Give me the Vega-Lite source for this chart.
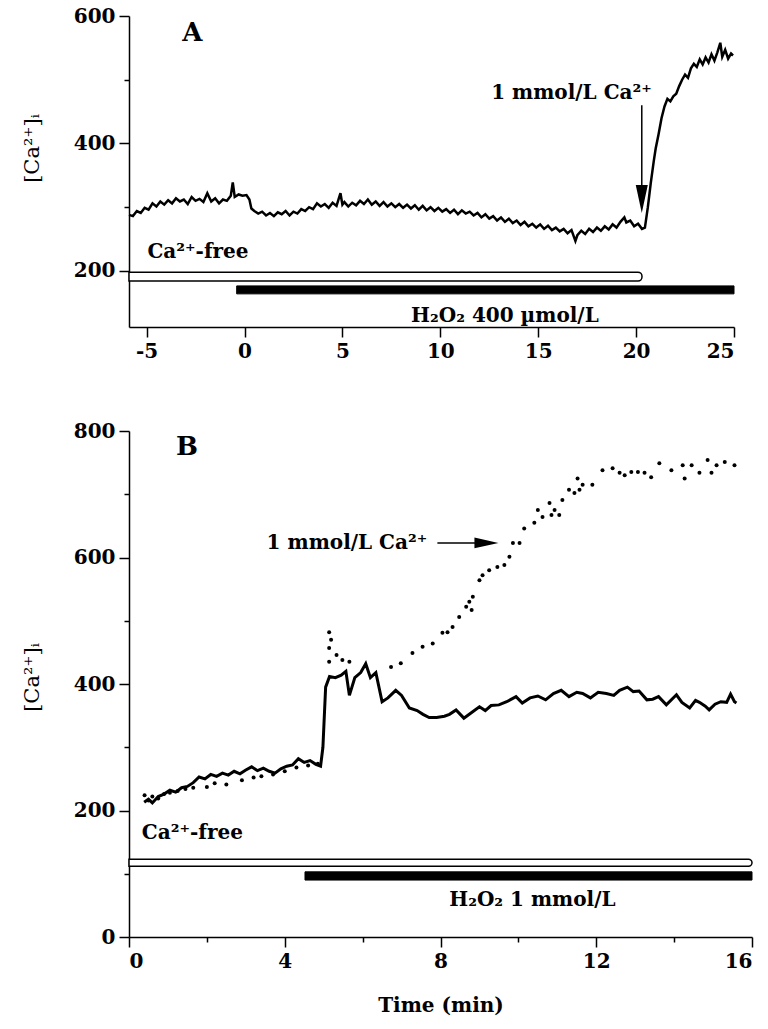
{
"$schema": "https://vega.github.io/schema/vega-lite/v6.json",
"padding": {"left": 20, "top": 6, "right": 5, "bottom": 5},
"spacing": 60,
"background": "white",
"datasets": {
"traceA": [
{"t":-5.9,"v":288},{"t":-5.7,"v":286},{"t":-5.5,"v":294},{"t":-5.3,"v":291},{"t":-5.1,"v":299},{"t":-4.9,"v":296},{"t":-4.7,"v":306},{"t":-4.5,"v":301},{"t":-4.3,"v":309},{"t":-4.1,"v":304},{"t":-3.9,"v":311},{"t":-3.7,"v":306},{"t":-3.5,"v":314},{"t":-3.3,"v":309},{"t":-3.1,"v":312},{"t":-2.9,"v":305},{"t":-2.7,"v":316},{"t":-2.5,"v":310},{"t":-2.3,"v":313},{"t":-2.1,"v":308},{"t":-1.9,"v":322},{"t":-1.7,"v":309},{"t":-1.5,"v":314},{"t":-1.3,"v":306},{"t":-1.1,"v":312},{"t":-0.9,"v":310},{"t":-0.7,"v":318},{"t":-0.6,"v":339},{"t":-0.5,"v":316},{"t":-0.3,"v":320},{"t":-0.1,"v":318},{"t":0.1,"v":319},{"t":0.25,"v":312},{"t":0.35,"v":298},{"t":0.5,"v":294},{"t":0.7,"v":290},{"t":0.9,"v":293},{"t":1.1,"v":287},{"t":1.3,"v":291},{"t":1.5,"v":286},{"t":1.7,"v":292},{"t":1.9,"v":289},{"t":2.1,"v":294},{"t":2.3,"v":287},{"t":2.5,"v":293},{"t":2.7,"v":290},{"t":2.9,"v":297},{"t":3.1,"v":294},{"t":3.3,"v":300},{"t":3.5,"v":297},{"t":3.7,"v":306},{"t":3.9,"v":301},{"t":4.1,"v":305},{"t":4.3,"v":299},{"t":4.5,"v":307},{"t":4.7,"v":302},{"t":4.9,"v":322},{"t":5.0,"v":304},{"t":5.1,"v":308},{"t":5.3,"v":301},{"t":5.5,"v":307},{"t":5.7,"v":303},{"t":5.9,"v":310},{"t":6.1,"v":305},{"t":6.3,"v":312},{"t":6.5,"v":304},{"t":6.7,"v":309},{"t":6.9,"v":302},{"t":7.1,"v":308},{"t":7.3,"v":301},{"t":7.5,"v":306},{"t":7.7,"v":300},{"t":7.9,"v":305},{"t":8.1,"v":299},{"t":8.3,"v":304},{"t":8.5,"v":298},{"t":8.7,"v":303},{"t":8.9,"v":296},{"t":9.1,"v":302},{"t":9.3,"v":295},{"t":9.5,"v":300},{"t":9.7,"v":294},{"t":9.9,"v":299},{"t":10.1,"v":293},{"t":10.3,"v":297},{"t":10.5,"v":291},{"t":10.7,"v":296},{"t":10.9,"v":289},{"t":11.1,"v":295},{"t":11.3,"v":290},{"t":11.5,"v":293},{"t":11.7,"v":287},{"t":11.9,"v":291},{"t":12.1,"v":284},{"t":12.3,"v":289},{"t":12.5,"v":282},{"t":12.7,"v":286},{"t":12.9,"v":279},{"t":13.1,"v":284},{"t":13.3,"v":277},{"t":13.5,"v":282},{"t":13.7,"v":275},{"t":13.9,"v":279},{"t":14.1,"v":272},{"t":14.3,"v":277},{"t":14.5,"v":270},{"t":14.7,"v":274},{"t":14.9,"v":268},{"t":15.1,"v":273},{"t":15.3,"v":266},{"t":15.5,"v":271},{"t":15.7,"v":264},{"t":15.9,"v":268},{"t":16.1,"v":262},{"t":16.3,"v":266},{"t":16.5,"v":259},{"t":16.7,"v":264},{"t":16.9,"v":247},{"t":17.0,"v":256},{"t":17.2,"v":263},{"t":17.4,"v":258},{"t":17.6,"v":266},{"t":17.8,"v":261},{"t":18.0,"v":268},{"t":18.2,"v":263},{"t":18.4,"v":270},{"t":18.6,"v":265},{"t":18.8,"v":273},{"t":19.0,"v":268},{"t":19.2,"v":277},{"t":19.4,"v":284},{"t":19.5,"v":276},{"t":19.7,"v":279},{"t":19.9,"v":270},{"t":20.1,"v":274},{"t":20.3,"v":266},{"t":20.45,"v":268},{"t":20.6,"v":300},{"t":20.75,"v":338},{"t":20.9,"v":372},{"t":21.0,"v":392},{"t":21.15,"v":415},{"t":21.3,"v":440},{"t":21.45,"v":458},{"t":21.6,"v":470},{"t":21.75,"v":466},{"t":21.9,"v":474},{"t":22.05,"v":478},{"t":22.2,"v":490},{"t":22.35,"v":500},{"t":22.5,"v":508},{"t":22.65,"v":503},{"t":22.8,"v":518},{"t":22.95,"v":525},{"t":23.1,"v":520},{"t":23.25,"v":532},{"t":23.4,"v":524},{"t":23.55,"v":535},{"t":23.7,"v":527},{"t":23.85,"v":540},{"t":24.0,"v":530},{"t":24.15,"v":543},{"t":24.3,"v":558},{"t":24.4,"v":536},{"t":24.55,"v":547},{"t":24.7,"v":533},{"t":24.85,"v":541},{"t":24.95,"v":538}
],
"freeA": [{"t":-5.9,"t2":20.3,"v":184,"v2":198}],
"h2o2A": [{"t":-0.4,"t2":25,"v":164,"v2":176.5}],
"textA": [
{"t":-2.66,"v":573,"label":"A","size":26,"align":"center"},
{"t":-4.96,"v":230,"label":"Ca²⁺-free","size":20,"align":"left"},
{"t":13.3,"v":130,"label":"H₂O₂ 400 µmol/L","size":20,"align":"center"},
{"t":16.7,"v":479,"label":"1 mmol/L Ca²⁺","size":20,"align":"center"}
],
"arrowA": [{"t":20.29,"v":460,"v2":325}],
"headA": [{"t":20.29,"v":313}],
"solidB": [
{"t":0.39,"v":213},{"t":0.5,"v":218},{"t":0.6,"v":212},{"t":0.75,"v":222},{"t":0.9,"v":226},{"t":1.05,"v":232},{"t":1.2,"v":229},{"t":1.35,"v":236},{"t":1.5,"v":238},{"t":1.65,"v":244},{"t":1.8,"v":253},{"t":1.95,"v":250},{"t":2.1,"v":257},{"t":2.25,"v":254},{"t":2.4,"v":259},{"t":2.55,"v":256},{"t":2.7,"v":262},{"t":2.85,"v":258},{"t":3.0,"v":264},{"t":3.15,"v":269},{"t":3.3,"v":263},{"t":3.45,"v":267},{"t":3.6,"v":262},{"t":3.75,"v":259},{"t":3.9,"v":266},{"t":4.05,"v":270},{"t":4.2,"v":272},{"t":4.35,"v":282},{"t":4.5,"v":276},{"t":4.65,"v":279},{"t":4.8,"v":273},{"t":4.92,"v":270},{"t":4.98,"v":300},{"t":5.05,"v":395},{"t":5.15,"v":412},{"t":5.3,"v":410},{"t":5.45,"v":414},{"t":5.57,"v":420},{"t":5.66,"v":382},{"t":5.8,"v":410},{"t":5.95,"v":418},{"t":6.08,"v":432},{"t":6.2,"v":410},{"t":6.34,"v":418},{"t":6.5,"v":372},{"t":6.65,"v":378},{"t":6.85,"v":390},{"t":7.0,"v":382},{"t":7.2,"v":362},{"t":7.4,"v":358},{"t":7.55,"v":352},{"t":7.71,"v":347},{"t":7.9,"v":347},{"t":8.1,"v":349},{"t":8.23,"v":352},{"t":8.4,"v":359},{"t":8.6,"v":346},{"t":8.8,"v":355},{"t":9.0,"v":364},{"t":9.15,"v":358},{"t":9.3,"v":366},{"t":9.5,"v":367},{"t":9.7,"v":372},{"t":9.94,"v":380},{"t":10.1,"v":370},{"t":10.3,"v":378},{"t":10.5,"v":381},{"t":10.7,"v":375},{"t":10.9,"v":385},{"t":11.1,"v":390},{"t":11.3,"v":380},{"t":11.5,"v":387},{"t":11.65,"v":385},{"t":11.85,"v":378},{"t":12.05,"v":387},{"t":12.26,"v":385},{"t":12.45,"v":382},{"t":12.6,"v":390},{"t":12.8,"v":395},{"t":12.95,"v":388},{"t":13.1,"v":389},{"t":13.3,"v":375},{"t":13.45,"v":376},{"t":13.6,"v":380},{"t":13.8,"v":367},{"t":14.06,"v":383},{"t":14.2,"v":371},{"t":14.4,"v":362},{"t":14.55,"v":374},{"t":14.65,"v":371},{"t":14.8,"v":365},{"t":14.9,"v":359},{"t":15.05,"v":368},{"t":15.2,"v":372},{"t":15.35,"v":371},{"t":15.45,"v":384},{"t":15.55,"v":372},{"t":15.6,"v":370}
],
"dotsB": [
{"t":0.4,"v":224},{"t":0.5,"v":216},{"t":0.6,"v":222},{"t":0.75,"v":219},{"t":0.9,"v":226},{"t":1.05,"v":228},{"t":1.25,"v":231},{"t":1.45,"v":234},{"t":1.65,"v":236},{"t":2.0,"v":237},{"t":2.2,"v":243},{"t":2.5,"v":241},{"t":2.9,"v":248},{"t":3.2,"v":252},{"t":3.4,"v":254},{"t":3.7,"v":257},{"t":4.0,"v":262},{"t":4.3,"v":268},{"t":4.6,"v":271},{"t":4.85,"v":274},
{"t":5.14,"v":482},{"t":5.19,"v":470},{"t":5.14,"v":457},{"t":5.14,"v":435},{"t":5.33,"v":446},{"t":5.48,"v":438},{"t":5.66,"v":435},{"t":6.73,"v":427},{"t":6.98,"v":433},{"t":7.28,"v":449},{"t":7.54,"v":459},{"t":7.8,"v":464},{"t":8.05,"v":481},{"t":8.18,"v":482},{"t":8.31,"v":490},{"t":8.48,"v":506},{"t":8.66,"v":522},{"t":8.74,"v":530},{"t":8.8,"v":517},{"t":8.83,"v":538},{"t":9.0,"v":564},{"t":9.08,"v":572},{"t":9.25,"v":580},{"t":9.46,"v":585},{"t":9.64,"v":588},{"t":9.77,"v":601},{"t":9.86,"v":623},{"t":10.03,"v":623},{"t":10.15,"v":646},{"t":10.41,"v":655},{"t":10.5,"v":675},{"t":10.62,"v":664},{"t":10.8,"v":686},{"t":10.85,"v":667},{"t":10.93,"v":675},{"t":11.05,"v":667},{"t":11.13,"v":691},{"t":11.3,"v":707},{"t":11.44,"v":702},{"t":11.57,"v":707},{"t":11.52,"v":725},{"t":11.65,"v":715},{"t":11.9,"v":715},{"t":12.16,"v":738},{"t":12.42,"v":741},{"t":12.6,"v":734},{"t":12.73,"v":730},{"t":12.9,"v":735},{"t":13.07,"v":735},{"t":13.24,"v":734},{"t":13.41,"v":727},{"t":13.62,"v":749},{"t":13.93,"v":738},{"t":14.22,"v":746},{"t":14.27,"v":725},{"t":14.45,"v":746},{"t":14.65,"v":734},{"t":14.86,"v":754},{"t":14.96,"v":734},{"t":15.09,"v":746},{"t":15.3,"v":751},{"t":15.55,"v":746}
],
"freeB": [{"t":0,"t2":16,"v":112,"v2":123}],
"h2o2B": [{"t":4.52,"t2":16,"v":90,"v2":103}],
"textB": [
{"t":1.49,"v":775,"label":"B","size":26,"align":"center"},
{"t":0.33,"v":164,"label":"Ca²⁺-free","size":20,"align":"left"},
{"t":10.36,"v":58.5,"label":"H₂O₂ 1 mmol/L","size":20,"align":"center"},
{"t":7.66,"v":623,"label":"1 mmol/L Ca²⁺","size":20,"align":"right"}
],
"arrowB": [{"t":7.92,"t2":9.0,"v":623}],
"headB": [{"t":9.18,"v":623}]
},
"vconcat": [
{
"width": 605,
"height": 311,
"encoding": {
"x": {"field": "t", "type": "quantitative", "scale": {"domain": [-5.9, 25], "nice": false, "zero": false},
"axis": {"values": [-5,0,5,10,15,20,25], "title": null, "tickSize": 10, "labelPadding": 4,
"labelExpr": "datum.value < 0 ? '-' + abs(datum.value) : '' + datum.value"}},
"y": {"field": "v", "type": "quantitative", "scale": {"domain": [112, 600], "nice": false, "zero": false},
"axis": {"values": [200,300,400,500,600], "title": "[Ca²⁺]ᵢ", "labelExpr": "datum.value % 200 === 0 ? datum.label : ''",
"tickSize": {"condition": {"test": "datum.value % 200 !== 0", "value": 5}, "value": 10},
"labelPadding": 4, "titleX": -87, "titleY": 132}}
},
"layer": [
{"data": {"name": "freeA"}, "mark": {"type": "rect", "fill": "white", "stroke": "black", "strokeWidth": 1.5, "cornerRadiusTopRight": 4, "cornerRadiusBottomRight": 4},
"encoding": {"x2": {"field": "t2"}, "y2": {"field": "v2"}}},
{"data": {"name": "h2o2A"}, "mark": {"type": "rect", "fill": "black", "stroke": "black", "strokeWidth": 1},
"encoding": {"x2": {"field": "t2"}, "y2": {"field": "v2"}}},
{"data": {"name": "traceA"}, "mark": {"type": "line", "color": "black", "strokeWidth": 2.5}},
{"data": {"name": "arrowA"}, "mark": {"type": "rule", "color": "black", "strokeWidth": 1.5}, "encoding": {"y2": {"field": "v2"}}},
{"data": {"name": "headA"}, "mark": {"type": "point", "shape": "M-0.43,-1L0.43,-1L0,1Z", "size": 784, "filled": true, "color": "black", "opacity": 1}},
{"data": {"name": "textA"}, "transform": [{"filter": "datum.align === 'center'"}],
"mark": {"type": "text", "align": "center", "baseline": "middle", "font": "DejaVu Serif", "fontWeight": "bold", "color": "black"},
"encoding": {"text": {"field": "label"}, "size": {"field": "size", "type": "quantitative", "scale": null}}},
{"data": {"name": "textA"}, "transform": [{"filter": "datum.align === 'left'"}],
"mark": {"type": "text", "align": "left", "baseline": "middle", "font": "DejaVu Serif", "fontWeight": "bold", "color": "black"},
"encoding": {"text": {"field": "label"}, "size": {"field": "size", "type": "quantitative", "scale": null}}}
]
},
{
"width": 623,
"height": 506,
"encoding": {
"x": {"field": "t", "type": "quantitative", "scale": {"domain": [0, 16], "nice": false},
"axis": {"values": [0,2,4,6,8,10,12,14,16], "title": "Time (min)", "labelExpr": "datum.value % 4 === 0 ? datum.label : ''",
"tickSize": {"condition": {"test": "datum.value % 4 !== 0", "value": 5}, "value": 10},
"labelPadding": 4, "titlePadding": 24, "titleFontWeight": "bold", "titleFontSize": 20}},
"y": {"field": "v", "type": "quantitative", "scale": {"domain": [0, 800], "nice": false},
"axis": {"values": [0,100,200,300,400,500,600,700,800], "title": "[Ca²⁺]ᵢ", "labelExpr": "datum.value % 200 === 0 ? datum.label : ''",
"tickSize": {"condition": {"test": "datum.value % 200 !== 0", "value": 5}, "value": 10},
"labelPadding": 4, "titleX": -87, "titleY": 246}}
},
"layer": [
{"data": {"name": "freeB"}, "mark": {"type": "rect", "fill": "white", "stroke": "black", "strokeWidth": 1.5, "cornerRadiusTopRight": 4, "cornerRadiusBottomRight": 4},
"encoding": {"x2": {"field": "t2"}, "y2": {"field": "v2"}}},
{"data": {"name": "h2o2B"}, "mark": {"type": "rect", "fill": "black", "stroke": "black", "strokeWidth": 1},
"encoding": {"x2": {"field": "t2"}, "y2": {"field": "v2"}}},
{"data": {"name": "solidB"}, "mark": {"type": "line", "color": "black", "strokeWidth": 3}},
{"data": {"name": "dotsB"}, "mark": {"type": "circle", "size": 16, "color": "black", "opacity": 1}},
{"data": {"name": "arrowB"}, "mark": {"type": "rule", "color": "black", "strokeWidth": 1.5}, "encoding": {"x2": {"field": "t2"}}},
{"data": {"name": "headB"}, "mark": {"type": "point", "shape": "M-1,-0.45L1,0L-1,0.45Z", "size": 576, "filled": true, "color": "black", "opacity": 1}},
{"data": {"name": "textB"}, "transform": [{"filter": "datum.align === 'center'"}],
"mark": {"type": "text", "align": "center", "baseline": "middle", "font": "DejaVu Serif", "fontWeight": "bold", "color": "black"},
"encoding": {"text": {"field": "label"}, "size": {"field": "size", "type": "quantitative", "scale": null}}},
{"data": {"name": "textB"}, "transform": [{"filter": "datum.align === 'left'"}],
"mark": {"type": "text", "align": "left", "baseline": "middle", "font": "DejaVu Serif", "fontWeight": "bold", "color": "black"},
"encoding": {"text": {"field": "label"}, "size": {"field": "size", "type": "quantitative", "scale": null}}},
{"data": {"name": "textB"}, "transform": [{"filter": "datum.align === 'right'"}],
"mark": {"type": "text", "align": "right", "baseline": "middle", "font": "DejaVu Serif", "fontWeight": "bold", "color": "black"},
"encoding": {"text": {"field": "label"}, "size": {"field": "size", "type": "quantitative", "scale": null}}}
]
}
],
"config": {
"view": {"stroke": null},
"axis": {"grid": false, "domainColor": "black", "tickColor": "black", "labelColor": "black", "titleColor": "black",
"domainWidth": 1.5, "tickWidth": 1.5, "labelFont": "DejaVu Serif", "titleFont": "DejaVu Serif",
"labelFontSize": 20, "labelFontWeight": "bold", "titleFontSize": 21, "titleFontWeight": "normal"}
}
}
